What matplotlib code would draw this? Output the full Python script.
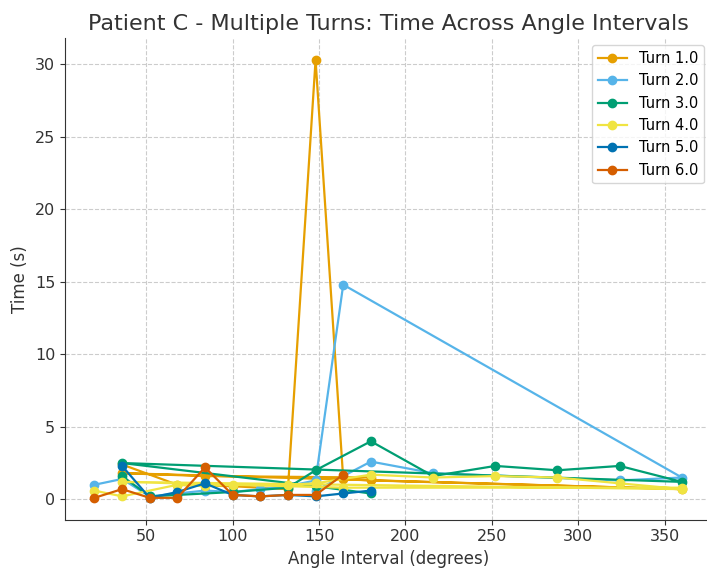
import matplotlib
matplotlib.use("Agg")
import matplotlib.pyplot as plt

# angle interval (degrees) and time (s) for each turn, in recorded order
turn1_angle = [36, 68, 100, 132, 148, 164, 180, 360, 36, 84, 180]
turn1_time = [2.4, 1.0, 0.9, 0.7, 30.3, 1.4, 1.3, 0.7, 1.8, 1.6, 1.5]

turn2_angle = [20, 36, 52, 84, 100, 116, 132, 148, 164, 360, 324, 216, 180, 148]
turn2_time = [1.0, 1.4, 0.2, 0.6, 0.5, 0.7, 0.9, 1.3, 14.8, 1.5, 1.3, 1.8, 2.6, 0.6]

turn3_angle = [36, 52, 68, 100, 132, 148, 180, 216, 252, 288, 324, 360, 36, 148, 180]
turn3_time = [1.6, 0.2, 0.3, 0.5, 0.8, 2.0, 4.0, 1.6, 2.3, 2.0, 2.3, 1.2, 2.5, 0.9, 0.4]

turn4_angle = [20, 36, 68, 84, 100, 132, 148, 180, 216, 252, 288, 324, 360, 36, 164, 360]
turn4_time = [0.6, 0.2, 1.0, 0.9, 1.0, 1.0, 1.1, 1.7, 1.5, 1.6, 1.5, 1.1, 0.7, 1.2, 0.8, 0.8]

turn5_angle = [36, 52, 68, 84, 100, 116, 132, 148, 164, 180]
turn5_time = [2.3, 0.1, 0.5, 1.1, 0.3, 0.2, 0.3, 0.2, 0.4, 0.6]

turn6_angle = [20, 36, 52, 68, 84, 100, 116, 132, 148, 164]
turn6_time = [0.1, 0.7, 0.1, 0.1, 2.2, 0.3, 0.2, 0.3, 0.3, 1.7]

turns = ["Turn 1.0", "Turn 2.0", "Turn 3.0", "Turn 4.0", "Turn 5.0", "Turn 6.0"]
angles = [turn1_angle, turn2_angle, turn3_angle, turn4_angle, turn5_angle, turn6_angle]
times = [turn1_time, turn2_time, turn3_time, turn4_time, turn5_time, turn6_time]
colors = ["#E69F00", "#56B4E9", "#009E73", "#F0E442", "#0072B2", "#D55E00"]

fig, ax = plt.subplots(figsize=(7.07, 5.68), dpi=100)
for name, a, t, c in zip(turns, angles, times, colors):
    ax.plot(a, t, marker='o', color=c, label=name, linewidth=1.6, markersize=6)

ax.set_title("Patient C - Multiple Turns: Time Across Angle Intervals", fontsize=16, color="#333333")
ax.set_xlabel("Angle Interval (degrees)", fontsize=12, color="#333333")
ax.set_ylabel("Time (s)", fontsize=12, color="#333333")
ax.tick_params(labelsize=11.5, colors="#333333")
ax.grid(True, linestyle='--', color='#cccccc', linewidth=0.8)
ax.spines['top'].set_visible(False)
ax.spines['right'].set_visible(False)
ax.spines['left'].set_color('#333333')
ax.spines['bottom'].set_color('#333333')
ax.legend(loc='upper right', fontsize=10.5)

fig.subplots_adjust(left=0.092, right=1.006, bottom=0.085, top=0.933)
fig.savefig("out.png", dpi=100)
